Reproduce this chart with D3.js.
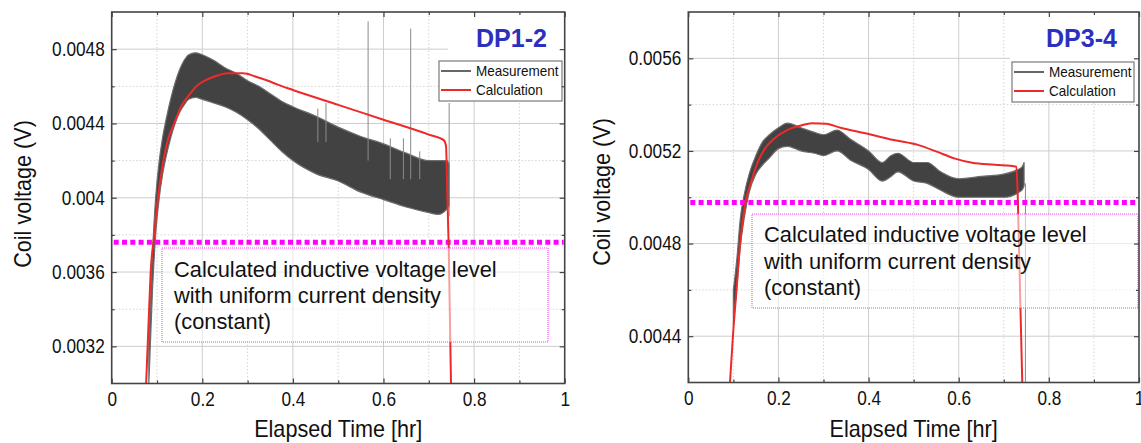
<!DOCTYPE html>
<html><head><meta charset="utf-8">
<script src="https://cdn.jsdelivr.net/npm/d3@7"></script>
<style>body{margin:0;background:#fff}svg{display:block;font-family:"Liberation Sans",Arial,sans-serif}</style>
</head><body><svg id="c" width="1141" height="443"></svg>
<script>
// ---------- shared axis data ----------
const xTicks = [0, 0.2, 0.4, 0.6, 0.8, 1];
const xTickLabels = ["0", "0.2", "0.4", "0.6", "0.8", "1"];
const xMinor = [0.1, 0.3, 0.5, 0.7, 0.9];
const xTitle = "Elapsed Time [hr]";
const yTitle = "Coil voltage (V)";
const seriesNames = ["Measurement", "Calculation"];
const boxLines = ["Calculated inductive voltage level", "with uniform current density", "(constant)"];

// ---------- DP1-2 ----------
const p1Label = "DP1-2";
const y1Domain = [0.003, 0.005];
const y1Ticks = [0.0032, 0.0036, 0.004, 0.0044, 0.0048];
const y1TickLabels = ["0.0032", "0.0036", "0.004", "0.0044", "0.0048"];
const y1Minor = [0.0034, 0.0038, 0.0042, 0.0046];
const calc1T = [0.076, 0.081, 0.086, 0.094, 0.102, 0.114, 0.125, 0.138, 0.155, 0.170, 0.187, 0.205, 0.224, 0.257, 0.290, 0.320, 0.345, 0.365, 0.40, 0.50, 0.60, 0.70, 0.733, 0.738, 0.741, 0.744, 0.749];
const calc1V = [0.0030, 0.0033, 0.0036, 0.0038, 0.0040, 0.0042, 0.00432, 0.0044, 0.0045, 0.00455, 0.0046, 0.00463, 0.00465, 0.00467, 0.00467, 0.00465, 0.00463, 0.00461, 0.00458, 0.00450, 0.00442, 0.00434, 0.00431, 0.00428, 0.0040, 0.00373, 0.0030];
const meas1T  = [0.082, 0.090, 0.097, 0.105, 0.112, 0.120, 0.130, 0.140, 0.150, 0.160, 0.170, 0.185, 0.200, 0.225, 0.250, 0.275, 0.300, 0.325, 0.350, 0.375, 0.400, 0.450, 0.500, 0.550, 0.600, 0.650, 0.700, 0.720, 0.740, 0.745];
const meas1Lo = [0.0030, 0.0035, 0.0038, 0.0040, 0.00412, 0.00422, 0.00432, 0.00440, 0.00446, 0.00450, 0.00453, 0.00454, 0.00453, 0.00451, 0.00449, 0.00446, 0.00442, 0.00437, 0.00431, 0.00425, 0.00420, 0.00413, 0.00409, 0.00403, 0.00399, 0.00395, 0.00392, 0.00391, 0.00394, 0.00396];
const meas1Hi = [0.0032, 0.0037, 0.0040, 0.0042, 0.00432, 0.00442, 0.00453, 0.00462, 0.00469, 0.00474, 0.00477, 0.00478, 0.00477, 0.00474, 0.00470, 0.00467, 0.00463, 0.00460, 0.00456, 0.00452, 0.00449, 0.00444, 0.00438, 0.00433, 0.00429, 0.00424, 0.00420, 0.00420, 0.00420, 0.00418];
const spike1T    = [0.455, 0.473, 0.566, 0.615, 0.644, 0.660, 0.680, 0.745];
const spike1Base = [0.0043, 0.0043, 0.0042, 0.0041, 0.0041, 0.0041, 0.0041, 0.0039];
const spike1Top  = [0.00448, 0.00451, 0.00495, 0.00432, 0.00432, 0.00491, 0.00425, 0.00451];
const level1 = 0.00376;

// ---------- DP3-4 ----------
const p2Label = "DP3-4";
const y2Domain = [0.0042, 0.0058];
const y2Ticks = [0.0044, 0.0048, 0.0052, 0.0056];
const y2TickLabels = ["0.0044", "0.0048", "0.0052", "0.0056"];
const y2Minor = [0.0046, 0.005, 0.0054];
const calc2T = [0.0925, 0.099, 0.107, 0.115, 0.126, 0.140, 0.156, 0.170, 0.187, 0.219, 0.250, 0.274, 0.306, 0.338, 0.393, 0.456, 0.511, 0.551, 0.590, 0.630, 0.680, 0.728, 0.731, 0.736, 0.741];
const calc2V = [0.0042, 0.0044, 0.0046, 0.0048, 0.00497, 0.00507, 0.00516, 0.00521, 0.005247, 0.00529, 0.00531, 0.00532, 0.005317, 0.0053, 0.005276, 0.005247, 0.005225, 0.005197, 0.005168, 0.005149, 0.00514, 0.005132, 0.0050, 0.0046, 0.0042];
const meas2T  = [0.100, 0.108, 0.115, 0.125, 0.135, 0.150, 0.165, 0.180, 0.200, 0.220, 0.250, 0.280, 0.300, 0.330, 0.360, 0.400, 0.430, 0.450, 0.465, 0.500, 0.530, 0.560, 0.600, 0.650, 0.700, 0.740, 0.745];
const meas2Lo = [0.00445, 0.00462, 0.00478, 0.00492, 0.00502, 0.00510, 0.00514, 0.00517, 0.00521, 0.00522, 0.00520, 0.00519, 0.00518, 0.00520, 0.00516, 0.00512, 0.00507, 0.00509, 0.00511, 0.00507, 0.00506, 0.00503, 0.00500, 0.00500, 0.00500, 0.00503, 0.00505];
const meas2Hi = [0.00460, 0.00474, 0.00490, 0.00502, 0.00510, 0.00518, 0.00524, 0.00527, 0.00530, 0.00532, 0.00530, 0.00528, 0.00527, 0.00529, 0.00525, 0.00520, 0.00515, 0.00518, 0.00519, 0.00515, 0.00515, 0.00511, 0.00508, 0.00509, 0.00510, 0.00513, 0.00515];
const spike2T    = [0.748];
const spike2Base = [0.0042];
const spike2Top  = [0.00506];
const level2 = 0.004977;

const svg = d3.select("#c");
const FRAME = "#444";

function drawPanel(p) {
  const x = d3.scaleLinear([0, 1], [p.left, p.right]);
  const y = d3.scaleLinear(p.yDomain, [p.bottom, p.top]);
  const g = svg.append("g");
  const clipId = "clip" + p.id;
  svg.append("clipPath").attr("id", clipId).append("rect")
    .attr("x", p.left).attr("y", p.top).attr("width", p.right - p.left).attr("height", p.bottom - p.top);

  // grid
  const grid = g.append("g");
  grid.selectAll(".gxM").data(xTicks.slice(1, -1)).join("line")
    .attr("x1", d => x(d)).attr("x2", d => x(d)).attr("y1", p.top).attr("y2", p.bottom)
    .attr("stroke", "#cdcdcd").attr("stroke-width", 1);
  grid.selectAll(".gxm").data(xMinor).join("line")
    .attr("x1", d => x(d)).attr("x2", d => x(d)).attr("y1", p.top).attr("y2", p.bottom)
    .attr("stroke", "#d4d4d4").attr("stroke-width", 1).attr("stroke-dasharray", "1.5,2");
  grid.selectAll(".gyM").data(p.yTicks).join("line")
    .attr("y1", d => y(d)).attr("y2", d => y(d)).attr("x1", p.left).attr("x2", p.right)
    .attr("stroke", "#cdcdcd").attr("stroke-width", 1);
  grid.selectAll(".gym").data(p.yMinor).join("line")
    .attr("y1", d => y(d)).attr("y2", d => y(d)).attr("x1", p.left).attr("x2", p.right)
    .attr("stroke", "#d4d4d4").attr("stroke-width", 1).attr("stroke-dasharray", "1.5,2");

  const plot = g.append("g").attr("clip-path", `url(#${clipId})`);

  // measurement band
  const mData = p.mT.map((t, i) => ({ t, lo: p.mLo[i], hi: p.mHi[i] }));
  plot.append("path").datum(mData)
    .attr("d", d3.area().x(d => x(d.t)).y0(d => y(d.lo)).y1(d => y(d.hi)).curve(d3.curveMonotoneX))
    .attr("fill", "#424242").attr("stroke", "#6c6c6c").attr("stroke-width", 1.2).attr("stroke-linejoin", "round");
  // spikes
  const sData = p.sT.map((t, i) => ({ t, b: p.sB[i], h: p.sH[i] }));
  plot.selectAll(".spk").data(sData).join("line")
    .attr("x1", d => x(d.t)).attr("x2", d => x(d.t)).attr("y1", d => y(d.b)).attr("y2", d => y(d.h))
    .attr("stroke", "#8a8a8a").attr("stroke-width", 1);

  // magenta level
  plot.append("line").attr("x1", x(0) + 2).attr("x2", x(1) - 1).attr("y1", y(p.level)).attr("y2", y(p.level))
    .attr("stroke", "#ff00ff").attr("stroke-width", 5).attr("stroke-dasharray", "5,3.3");

  // calculation
  const cData = p.cT.map((t, i) => ({ t, v: p.cV[i] }));
  plot.append("path").datum(cData)
    .attr("d", d3.line().x(d => x(d.t)).y(d => y(d.v)).curve(d3.curveMonotoneX))
    .attr("fill", "none").attr("stroke", "#ec2a2a").attr("stroke-width", 2);

  // annotation box
  g.append("rect").attr("x", p.box[0]).attr("y", p.box[1]).attr("width", p.box[2]).attr("height", p.box[3])
    .attr("fill", "#fff").attr("fill-opacity", 0.55)
    .attr("stroke", "#ff33ff").attr("stroke-width", 1).attr("stroke-dasharray", "1,1");
  g.selectAll(".bt").data(boxLines).join("text")
    .attr("x", p.boxText[0]).attr("y", (d, i) => p.boxText[1] + i * p.boxText[2])
    .attr("font-size", 22.5).attr("fill", "#111").attr("data-sq", 0.97).text(d => d);

  // label background + label
  g.append("rect").attr("x", p.labelBg).attr("y", p.top).attr("width", p.right - p.labelBg).attr("height", p.legend[1] - p.top)
    .attr("fill", "#fff");
  g.append("text").attr("x", p.labelPos[0]).attr("y", p.labelPos[1])
    .attr("font-size", 26.5).attr("font-weight", "bold").attr("fill", "#2b30bf").attr("data-sq", 0.945).text(p.label);

  // legend
  const [lx, ly, lw, lh] = p.legend;
  g.append("rect").attr("x", lx).attr("y", ly).attr("width", lw).attr("height", lh)
    .attr("fill", "#fff").attr("stroke", "#7a7a7a").attr("stroke-width", 1.2);
  const legColors = ["#333", "#ec2a2a"];
  const legW = [1.5, 2];
  seriesNames.forEach((name, i) => {
    const yy = ly + 10 + i * 19;
    g.append("line").attr("x1", lx + 2).attr("x2", lx + 32).attr("y1", yy).attr("y2", yy)
      .attr("stroke", legColors[i]).attr("stroke-width", legW[i]);
    g.append("text").attr("x", lx + 37).attr("y", yy).attr("dy", "0.36em")
      .attr("font-size", 15).attr("fill", "#111").attr("data-sq", 0.9).text(name);
  });

  // axes (ticks inward)
  const styleAxis = sel => {
    sel.attr("font-size", null).attr("font-family", null);
    sel.select(".domain").remove();
    sel.selectAll(".tick line").attr("stroke", FRAME).attr("stroke-width", 1.2);
    sel.selectAll(".tick text").attr("font-size", 20).attr("fill", "#111").attr("data-sq", 0.86);
  };
  g.append("g").attr("transform", `translate(0,${p.bottom})`)
    .call(d3.axisBottom(x).tickValues(xTicks).tickSize(-5).tickPadding(8).tickFormat((d, i) => xTickLabels[i])).call(styleAxis);
  g.append("g").attr("transform", `translate(0,${p.bottom})`)
    .call(d3.axisBottom(x).tickValues(xMinor).tickSize(-3).tickFormat("")).call(styleAxis);
  g.append("g").attr("transform", `translate(0,${p.top})`)
    .call(d3.axisTop(x).tickValues(xTicks).tickSize(-5).tickFormat("")).call(styleAxis);
  g.append("g").attr("transform", `translate(0,${p.top})`)
    .call(d3.axisTop(x).tickValues(xMinor).tickSize(-3).tickFormat("")).call(styleAxis);
  g.append("g").attr("transform", `translate(${p.left},0)`)
    .call(d3.axisLeft(y).tickValues(p.yTicks).tickSize(-5).tickPadding(7).tickFormat((d, i) => p.yTickLabels[i])).call(styleAxis);
  g.append("g").attr("transform", `translate(${p.left},0)`)
    .call(d3.axisLeft(y).tickValues(p.yMinor).tickSize(-3).tickFormat("")).call(styleAxis);
  g.append("g").attr("transform", `translate(${p.right},0)`)
    .call(d3.axisRight(y).tickValues(p.yTicks).tickSize(-5).tickFormat("")).call(styleAxis);
  g.append("g").attr("transform", `translate(${p.right},0)`)
    .call(d3.axisRight(y).tickValues(p.yMinor).tickSize(-3).tickFormat("")).call(styleAxis);

  // frame
  g.append("rect").attr("x", p.left).attr("y", p.top).attr("width", p.right - p.left).attr("height", p.bottom - p.top)
    .attr("fill", "none").attr("stroke", FRAME).attr("stroke-width", 1.6);

  // titles
  g.append("text").attr("x", (p.left + p.right) / 2).attr("y", 437).attr("text-anchor", "middle")
    .attr("font-size", 24).attr("fill", "#111").attr("data-sq", 0.9).text(xTitle);
  g.append("text").attr("transform", `translate(${p.yTitleX},${p.yTitleY}) rotate(-90)`).attr("text-anchor", "middle")
    .attr("font-size", 24).attr("fill", "#111").attr("data-sq", 0.9).text(yTitle);
}

drawPanel({
  id: 1, left: 111.7, right: 564.7, top: 12, bottom: 383.5,
  yDomain: y1Domain, yTicks: y1Ticks, yTickLabels: y1TickLabels, yMinor: y1Minor,
  cT: calc1T, cV: calc1V, mT: meas1T, mLo: meas1Lo, mHi: meas1Hi,
  sT: spike1T, sB: spike1Base, sH: spike1Top, level: level1,
  box: [162, 248, 386, 94], boxText: [174, 277, 26],
  label: p1Label, labelBg: 448, labelPos: [476, 47], legend: [439, 61, 123, 40],
  yTitleX: 31, yTitleY: 194
});
drawPanel({
  id: 2, left: 688.3, right: 1139, top: 12, bottom: 382.5,
  yDomain: y2Domain, yTicks: y2Ticks, yTickLabels: y2TickLabels, yMinor: y2Minor,
  cT: calc2T, cV: calc2V, mT: meas2T, mLo: meas2Lo, mHi: meas2Hi,
  sT: spike2T, sB: spike2Base, sH: spike2Top, level: level2,
  box: [752, 214, 386, 94], boxText: [764, 242, 26.5],
  label: p2Label, labelBg: 1010, labelPos: [1046, 47], legend: [1012, 62, 122, 40],
  yTitleX: 610, yTitleY: 192
});

// horizontal compression of text to match the reference's narrow glyphs
svg.selectAll("text[data-sq]").each(function () {
  const f = +this.getAttribute("data-sq");
  const w = this.getComputedTextLength();
  if (w > 0) {
    this.setAttribute("textLength", (w * f).toFixed(2));
    this.setAttribute("lengthAdjust", "spacingAndGlyphs");
  }
});
</script></body></html>
